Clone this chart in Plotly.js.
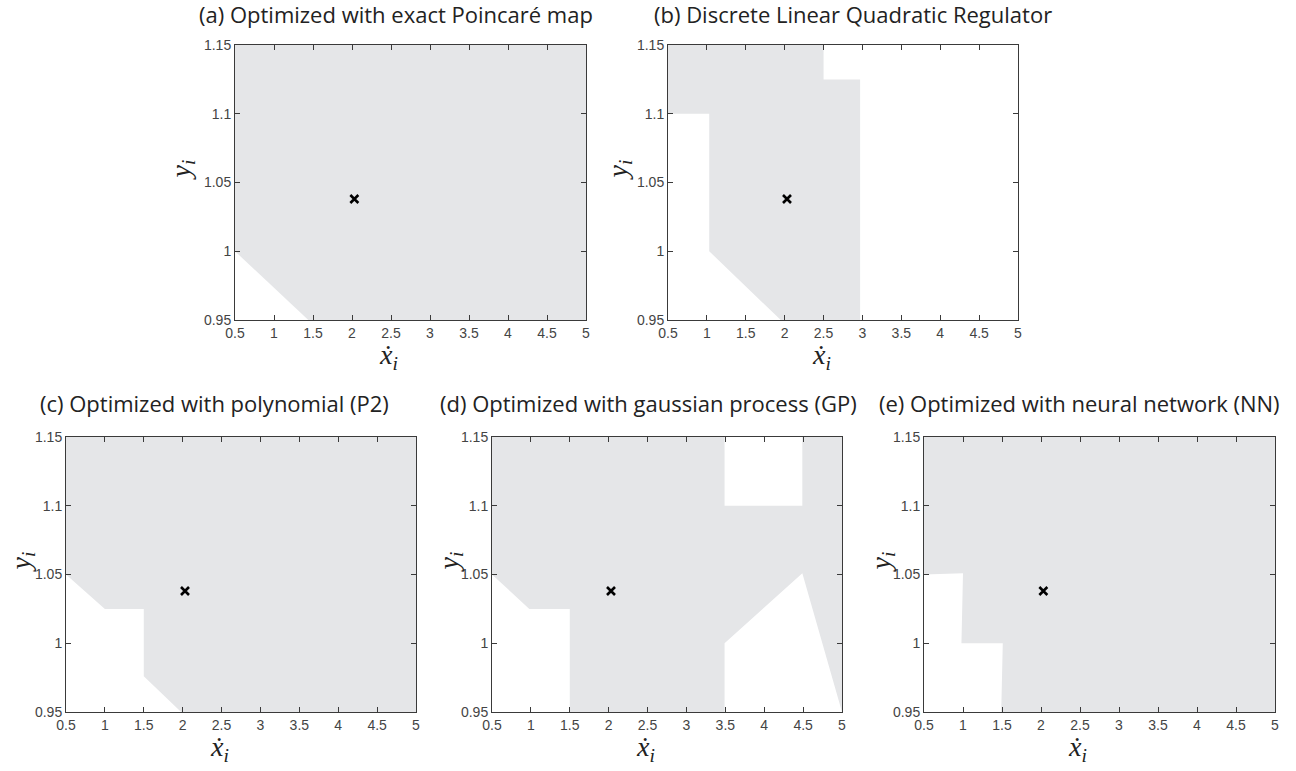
<!DOCTYPE html>
<html>
<head>
<meta charset="utf-8">
<script src="https://cdn.plot.ly/plotly-3.0.1.min.js"></script>
<style>html,body{margin:0;padding:0;background:#fff;} #chart{width:1296px;height:771px;}</style>
</head>
<body>
<div id="chart"></div>
<script>
// ---- data ----
const xTickVals = [0.5, 1, 1.5, 2, 2.5, 3, 3.5, 4, 4.5, 5];
const xTickText = ['0.5', '1', '1.5', '2', '2.5', '3', '3.5', '4', '4.5', '5'];
const yTickVals = [0.95, 1, 1.05, 1.1, 1.15];
const yTickText = ['0.95', '1', '1.05', '1.1', '1.15'];

const panelTitles = [
  '(a) Optimized with exact Poincaré map',
  '(b) Discrete Linear Quadratic Regulator',
  '(c) Optimized with polynomial (P2)',
  '(d) Optimized with gaussian process (GP)',
  '(e) Optimized with neural network (NN)'
];
const xLabel = 'ẋ<sub>i</sub>';
const yLabel = 'y<sub>i</sub>';

// stable-region polygon vertices
const regionAx = [0.5, 1.44, 5, 5, 0.5];
const regionAy = [1.0, 0.95, 0.95, 1.15, 1.15];

const regionBx = [0.5, 2.5, 2.5, 2.97, 2.97, 1.95, 1.03, 1.03, 0.5];
const regionBy = [1.15, 1.15, 1.125, 1.125, 0.95, 0.95, 1.0, 1.1, 1.1];

const regionCx = [0.5, 1.0, 1.5, 1.5, 1.98, 5, 5, 0.5];
const regionCy = [1.05, 1.025, 1.025, 0.976, 0.95, 0.95, 1.15, 1.15];

const regionDx = [0.5, 3.49, 3.49, 4.49, 4.49, 5, 5, 4.49, 3.49, 3.49, 1.5, 1.5, 0.98, 0.5];
const regionDy = [1.15, 1.15, 1.1, 1.1, 1.15, 1.15, 0.95, 1.051, 1.0, 0.95, 0.95, 1.025, 1.025, 1.05];

const regionEx = [0.5, 5, 5, 1.49, 1.51, 0.98, 1.0, 0.5];
const regionEy = [1.15, 1.15, 0.95, 0.95, 1.0, 1.0, 1.051, 1.05];

// fixed point
const fixedX = [2.03];
const fixedY = [1.038];

// ---- layout helpers ----
const W = 1296, H = 771;
const regions = [
  [regionAx, regionAy], [regionBx, regionBy], [regionCx, regionCy],
  [regionDx, regionDy], [regionEx, regionEy]
];
// plot boxes in pixels: [left, right, top, bottom]
const boxes = [
  [235, 586, 45, 320],
  [668, 1018, 45, 320],
  [66, 416, 437, 712],
  [492, 842, 437, 712],
  [924, 1275, 437, 712]
];
const titleCenters = [[396, 14], [853, 14], [215, 403], [648, 403], [1079, 403]];
const yLabelX = [182, 619, 22, 450, 882];

const fillColor = 'rgb(229,230,232)';
const axisColor = '#3a3a3a';
const traces = [];
const layout = {
  width: W, height: H,
  margin: {l: 0, r: 0, t: 0, b: 0},
  paper_bgcolor: '#fff', plot_bgcolor: '#fff',
  showlegend: false,
  annotations: []
};

regions.forEach((r, i) => {
  const sfx = i === 0 ? '' : String(i + 1);
  const xa = 'x' + sfx, ya = 'y' + sfx;
  traces.push({
    type: 'scatter', x: r[0], y: r[1], xaxis: xa, yaxis: ya,
    mode: 'lines', fill: 'toself', fillcolor: fillColor,
    line: {width: 0, color: fillColor}, hoverinfo: 'skip'
  });
  traces.push({
    type: 'scatter', x: fixedX, y: fixedY, xaxis: xa, yaxis: ya,
    mode: 'markers',
    marker: {symbol: 'x-thin-open', size: 8, color: '#000', line: {width: 2.6, color: '#000'}},
    hoverinfo: 'skip'
  });
  const b = boxes[i];
  const axCommon = {
    showgrid: false, zeroline: false, showline: true, mirror: 'ticks',
    linecolor: axisColor, linewidth: 1,
    ticks: 'inside', ticklen: 5, tickcolor: axisColor, tickwidth: 1,
    tickfont: {family: 'Liberation Sans, Arial, sans-serif', size: 14, color: '#444'},
    fixedrange: true
  };
  layout['xaxis' + sfx] = Object.assign({}, axCommon, {
    domain: [b[0] / W, b[1] / W], anchor: ya, range: [0.5, 5],
    tickmode: 'array', tickvals: xTickVals, ticktext: xTickText
  });
  layout['yaxis' + sfx] = Object.assign({}, axCommon, {
    domain: [1 - b[3] / H, 1 - b[2] / H], anchor: xa, range: [0.95, 1.15],
    tickmode: 'array', tickvals: yTickVals, ticktext: yTickText
  });
  // panel title
  layout.annotations.push({
    text: panelTitles[i], xref: 'paper', yref: 'paper',
    x: titleCenters[i][0] / W, y: 1 - titleCenters[i][1] / H,
    xanchor: 'center', yanchor: 'middle', showarrow: false,
    font: {family: 'Open Sans, Noto Sans, sans-serif', size: 22, color: '#222'}
  });
  // x label
  layout.annotations.push({
    text: xLabel, xref: 'paper', yref: 'paper',
    x: ((b[0] + b[1]) / 2 - 22) / W, y: 1 - (b[3] + 36) / H,
    xanchor: 'center', yanchor: 'middle', showarrow: false,
    font: {family: 'Liberation Serif, DejaVu Serif, serif', size: 28, color: '#222', style: 'italic'}
  });
  // y label
  layout.annotations.push({
    text: yLabel, xref: 'paper', yref: 'paper',
    x: yLabelX[i] / W, y: 1 - ((b[2] + b[3]) / 2 - 12) / H,
    xanchor: 'center', yanchor: 'middle', showarrow: false, textangle: -90,
    font: {family: 'Liberation Serif, DejaVu Serif, serif', size: 28, color: '#222', style: 'italic'}
  });
});

Plotly.newPlot('chart', traces, layout, {displayModeBar: false, staticPlot: true});
</script>
</body>
</html>
